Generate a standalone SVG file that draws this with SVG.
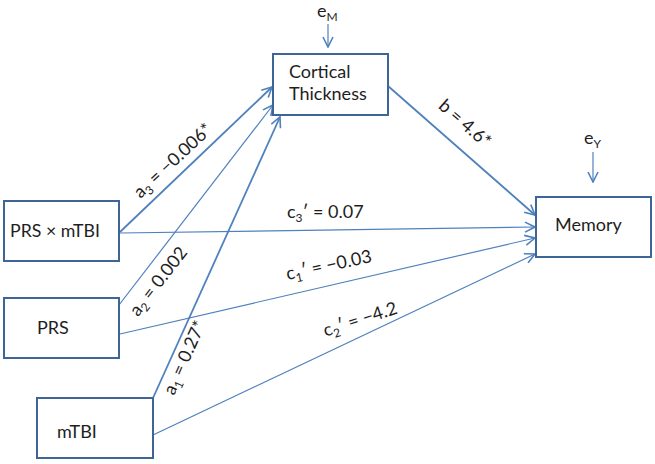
<svg xmlns="http://www.w3.org/2000/svg" width="655" height="464" viewBox="0 0 655 464">
<style>
.box{fill:#fff;stroke:#3d6696;stroke-width:2}
.t{font-family:Lato,"Liberation Sans",sans-serif;font-size:18px;fill:#1e1e1e}
.s{font-size:12px}
.ln{fill:none;stroke:#4f81bd;stroke-width:1.2}
.th{stroke-width:1.8}
</style>
<defs>
<marker id="ah" viewBox="0 0 12 12" refX="11" refY="6" markerWidth="12" markerHeight="12" markerUnits="userSpaceOnUse" orient="auto">
<path d="M1,1 L11,6 L1,11" fill="none" stroke="#4f81bd" stroke-width="1.6"/>
</marker>
</defs>
<rect width="655" height="464" fill="#fff"/>
<g id="connectors">
<line class="ln th" x1="120" y1="232" x2="272" y2="87" marker-end="url(#ah)"/>
<line class="ln" x1="119" y1="305" x2="273" y2="105" marker-end="url(#ah)"/>
<line class="ln th" x1="153" y1="398" x2="280" y2="117" marker-end="url(#ah)"/>
<line class="ln th" x1="388" y1="86" x2="535" y2="215" marker-end="url(#ah)"/>
<line class="ln" x1="120" y1="233" x2="535" y2="227" marker-end="url(#ah)"/>
<line class="ln" x1="120" y1="334" x2="535" y2="238" marker-end="url(#ah)"/>
<line class="ln" x1="153" y1="435" x2="535" y2="254" marker-end="url(#ah)"/>
<line class="ln" x1="328" y1="24" x2="328" y2="47" marker-end="url(#ah)"/>
<line class="ln" x1="593" y1="152" x2="593" y2="182" marker-end="url(#ah)"/>
</g>
<g id="eM"><text class="t" x="317" y="17">e<tspan class="s" dy="4">M</tspan></text></g>
<g id="eY"><text class="t" x="584" y="144">e<tspan class="s" dy="4">Y</tspan></text></g>
<g id="cortical">
<rect class="box" x="273" y="54" width="115" height="61"/>
<text class="t" x="289" y="78">Cortical</text>
<text class="t" x="289" y="100">Thickness</text>
</g>
<g id="memory">
<rect class="box" x="536" y="197" width="115" height="60"/>
<text class="t" x="555" y="231">Memory</text>
</g>
<g id="prsxmtbi">
<rect class="box" x="4" y="201" width="115" height="60"/>
<text class="t" x="10" y="237" textLength="90" lengthAdjust="spacingAndGlyphs">PRS × mTBI</text>
</g>
<g id="prs">
<rect class="box" x="4" y="298" width="115" height="60"/>
<text class="t" x="37" y="334">PRS</text>
</g>
<g id="mtbi">
<rect class="box" x="37" y="398" width="116" height="60"/>
<text class="t" x="57" y="438">mTBI</text>
</g>
<g id="labels">
<text class="t" text-anchor="middle" transform="translate(177,165) rotate(-43)">a<tspan class="s" dy="4">3</tspan><tspan dy="-4"> = −0.006*</tspan></text>
<text class="t" text-anchor="middle" transform="translate(163,285) rotate(-52)">a<tspan class="s" dy="4">2</tspan><tspan dy="-4"> = 0.002</tspan></text>
<text class="t" text-anchor="middle" transform="translate(190,360) rotate(-66)">a<tspan class="s" dy="4">1</tspan><tspan dy="-4"> = 0.27*</tspan></text>
<text class="t" text-anchor="middle" transform="translate(461,128) rotate(41)">b = 4.6*</text>
<text class="t" x="287" y="218">c<tspan class="s" dy="4">3</tspan><tspan dy="-4">′ = 0.07</tspan></text>
<text class="t" text-anchor="middle" transform="translate(330,271) rotate(-12)">c<tspan class="s" dy="4">1</tspan><tspan dy="-4">′ = −0.03</tspan></text>
<text class="t" text-anchor="middle" transform="translate(362,325) rotate(-18)">c<tspan class="s" dy="4">2</tspan><tspan dy="-4">′ = −4.2</tspan></text>
</g>
</svg>
